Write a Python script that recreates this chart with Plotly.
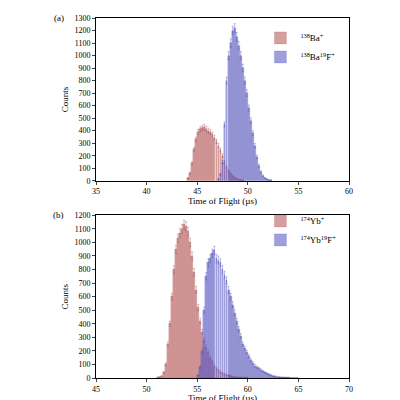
import plotly.graph_objects as go
from plotly.subplots import make_subplots

bw = 0.2
ba_start = 44.0
ba_counts = [20, 60, 140, 250, 330, 390, 410, 420, 430, 415, 400, 390, 370, 345, 315, 280, 245, 200, 150, 110, 80, 55, 38, 25, 15, 8, 5, 3]
baf_start = 47.0
baf_counts = [10, 50, 150, 450, 800, 1000, 1100, 1200, 1220, 1150, 1080, 1000, 900, 800, 700, 580, 480, 380, 280, 190, 120, 70, 40, 20, 10, 5, 3]
yb_start = 51.0
yb_counts = [5, 8, 15, 40, 100, 250, 400, 600, 800, 950, 1030, 1070, 1100, 1130, 1120, 1080, 1000, 900, 780, 650, 520, 420, 340, 280, 230, 190, 150, 120, 90, 70, 55, 45, 35, 28, 22, 18, 14, 10, 8, 6, 5, 4, 3, 2, 2]
ybf_start = 55.0
ybf_counts = [20, 80, 200, 500, 750, 850, 880, 920, 940, 880, 870, 850, 800, 760, 720, 650, 600, 540, 480, 420, 360, 310, 250, 220, 190, 160, 130, 110, 90, 80, 70, 60, 50, 40, 32, 26, 20, 15, 12, 9, 7, 5, 4, 3, 2, 2, 1, 1, 1, 1]

red = "rgba(185,95,95,0.6)"
blue = "rgba(95,95,195,0.6)"
red_err = "rgba(150,70,70,0.7)"
blue_err = "rgba(70,70,170,0.7)"

def xs(start, n):
    return [round(start + bw * i + bw / 2, 3) for i in range(n)]

fig = make_subplots(rows=2, cols=1, vertical_spacing=0.1)

def add(x0, counts, color, ecolor, name, row):
    fig.add_trace(go.Bar(
        x=xs(x0, len(counts)), y=counts, width=bw * 0.92, name=name,
        marker=dict(color=color, line=dict(width=0.4, color=color)),
        error_y=dict(type="data", array=[c ** 0.5 for c in counts], thickness=0.5, width=1, color=ecolor),
        legendgroup=str(row), showlegend=True), row=row, col=1)

add(ba_start, ba_counts, red, red_err, "<sup>138</sup>Ba<sup>+</sup>", 1)
add(baf_start, baf_counts, blue, blue_err, "<sup>138</sup>Ba<sup>19</sup>F<sup>+</sup>", 1)
add(yb_start, yb_counts, red, red_err, "<sup>174</sup>Yb<sup>+</sup>", 2)
add(ybf_start, ybf_counts, blue, blue_err, "<sup>174</sup>Yb<sup>19</sup>F<sup>+</sup>", 2)

ax = dict(showline=True, linecolor="black", linewidth=0.8, mirror=True, ticks="outside",
          ticklen=3, showgrid=False, zeroline=False, tickfont=dict(size=8))
fig.update_xaxes(**ax, title=dict(text="Time of Flight (µs)", font=dict(size=9), standoff=2))
fig.update_yaxes(**ax, title=dict(text="Counts", font=dict(size=9), standoff=4))
fig.update_xaxes(range=[35, 60], dtick=5, row=1, col=1)
fig.update_xaxes(range=[45, 70], dtick=5, row=2, col=1)
fig.update_yaxes(range=[0, 1300], dtick=100, row=1, col=1)
fig.update_yaxes(range=[0, 1200], dtick=100, row=2, col=1)
fig.update_layout(
    width=400, height=400, barmode="overlay", bargap=0,
    margin=dict(l=88, r=59, t=6, b=27),
    plot_bgcolor="white", paper_bgcolor="white",
    font=dict(family="Liberation Serif", color="black", size=9),
    legend=dict(x=0.97, y=0.985, xanchor="right", yanchor="top", font=dict(size=9),
                bgcolor="rgba(0,0,0,0)", tracegroupgap=145),
)
fig.add_annotation(text="(a)", x=-0.12, y=1.0, xref="paper", yref="paper", showarrow=False, font=dict(size=9), xanchor="right", yanchor="middle")
fig.add_annotation(text="(b)", x=-0.12, y=0.452, xref="paper", yref="paper", showarrow=False, font=dict(size=9), xanchor="right", yanchor="middle")
fig.update_yaxes(domain=[0.548, 1.0], row=1, col=1)
fig.update_yaxes(domain=[0.0, 0.452], row=2, col=1)
fig.write_html("out.html")
